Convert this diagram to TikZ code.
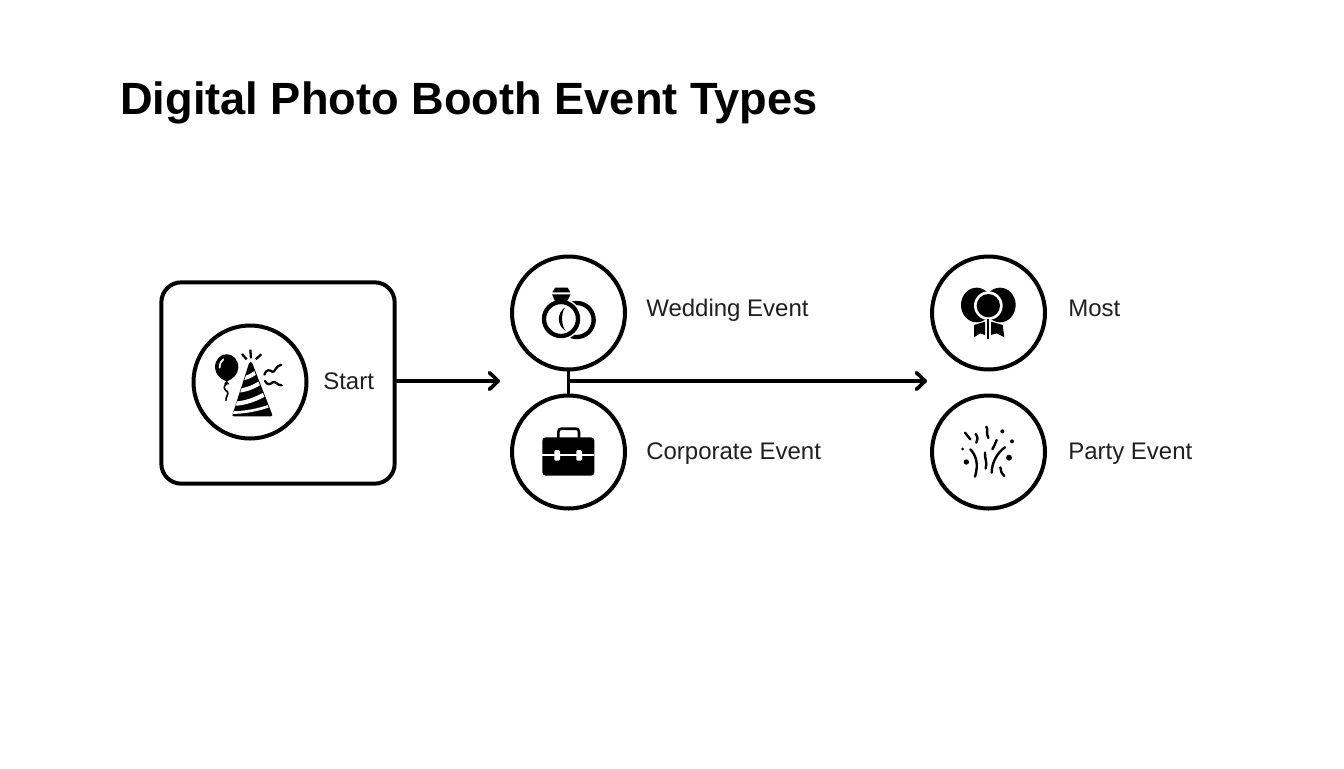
\documentclass[tikz,border=0pt]{standalone}
\usepackage{fontspec}
\setmainfont{Liberation Sans}
\usetikzlibrary{arrows.meta}
\tikzset{
  px/.style={x=.75pt,y=-.75pt},
  ring/.style={circle,draw=black,line width=3pt,minimum size=84.75pt,inner sep=0pt,outer sep=0pt,fill=white},
  startbox/.style={rectangle,rounded corners=15pt,draw=black,line width=3pt,minimum width=175pt,minimum height=151pt,inner sep=0pt,outer sep=0pt},
  lab/.style={inner sep=0pt,anchor=base west,font=\fontsize{18}{22}\selectfont,text=black!88},
  link/.style={draw=black,line width=2.8pt},
  flow/.style={link,-{Straight Barb[length=6.5pt,width=12.5pt,line width=2.8pt,round]}},
  zoomed/.style={x=.25pt,y=-.25pt,line cap=round,line join=round},
}
\begin{document}
\begin{tikzpicture}[px]
\useasboundingbox (0,0) rectangle (1344,768);
\fill[white] (0,0) rectangle (1344,768);
\node[inner sep=0pt,anchor=base west,font=\fontsize{33.9}{40}\bfseries\selectfont] (title) at (120,114) {Digital Photo Booth Event Types};

\node[startbox] (start) at (278,383) {};
\node[ring] (party) at (250,382) {};
\node[ring] (wed) at (568.5,313) {};
\node[ring] (corp) at (568.5,452) {};
\node[ring] (most) at (988.5,313) {};
\node[ring] (pe) at (988.5,452) {};
\coordinate (j) at (568.5,381);
\coordinate (t1) at (500,381);
\coordinate (t2) at (927,381);

\draw[flow] (start.east |- j) -- (t1);
\draw[link] (wed.south) -- (corp.north);
\draw[flow] (j) -- (t2);

\node[lab] (l0) at (323,389) {Start};
\node[lab] (l1) at (646,316.5) {Wedding Event};
\node[lab] (l2) at (646,459.5) {Corporate Event};
\node[lab] (l3) at (1068,316.5) {Most};
\node[lab] (l4) at (1068,459.5) {Party Event};

% party hat + balloon
\begin{scope}[shift={(210,345)},zoomed]
\fill (50,28) .. controls (28,28) and (15,46) .. (15,68) .. controls (15,88) and (35,105) .. (50,109) .. controls (65,105) and (85,88) .. (85,68) .. controls (85,46) and (72,28) .. (50,28) -- cycle;
\fill (42,118) -- (50,106) -- (58,118) -- cycle;
\draw[white,line width=1.3pt] (29,68) .. controls (29,56) and (33,48) .. (40,43);
\draw[line width=1.2pt] (50,116) .. controls (38,126) and (42,132) .. (52,140) .. controls (58,148) and (46,155) .. (48,166);
\fill (122,50) .. controls (125,50) and (126,52) .. (127,55) -- (186,207) .. controls (188,212) and (186,214) .. (182,214) -- (72,214) .. controls (68,214) and (66,212) .. (68,207) -- (117,55) .. controls (118,52) and (119,50) .. (122,50) -- cycle;
\begin{scope}
\clip (122,50) -- (186,214) -- (66,214) -- cycle;
\draw[white,line width=3pt,line cap=butt] (98,100) .. controls (112,98) and (125,92) .. (140,80);
\draw[white,line width=3pt,line cap=butt] (84,137) .. controls (110,135) and (135,125) .. (158,108);
\draw[white,line width=3.2pt,line cap=butt] (72,176) .. controls (105,175) and (140,163) .. (172,143);
\draw[white,line width=2pt,line cap=butt] (62,203) .. controls (100,203) and (150,195) .. (190,178);
\end{scope}
\draw[line width=1.7pt,line cap=butt] (121,14) -- (123,40);
\draw[line width=1.7pt,line cap=butt] (96,27) -- (110,43);
\draw[line width=1.7pt,line cap=butt] (154,28) -- (137,43);
\draw[line width=1.7pt] (163,89) .. controls (168,72) and (180,74) .. (186,80) .. controls (194,86) and (196,62) .. (214,59);
\draw[line width=1.7pt] (165,108) .. controls (172,122) and (182,118) .. (188,112) .. controls (196,106) and (202,122) .. (215,121);
\end{scope}

% rings
\begin{scope}[shift={(505,250)},zoomed]
\draw[line width=3.25pt,line cap=butt] (215,210) +(-110:51) arc[start angle=-110,end angle=110,radius=51];
\fill[white] (168,207) circle[radius=62];
\draw[line width=3.25pt] (168,207) circle[radius=51];
\fill (180,172) .. controls (155,190) and (155,225) .. (182,243) .. controls (168,225) and (168,190) .. (180,172) -- cycle;
\fill (150,113) -- (188,113) -- (196,127) -- (142,127) -- cycle;
\fill (141,133) -- (197,133) -- (184,158) -- (152,158) -- cycle;
\end{scope}

% briefcase
\begin{scope}[shift={(505,250)},zoomed]
\draw[line width=2pt] (160,564) -- (160,546) .. controls (160,538) and (164,536) .. (170,536) -- (212,536) .. controls (218,536) and (222,538) .. (222,546) -- (222,564);
\fill[rounded corners=2.5pt] (112,562) rectangle (268,677);
\fill[white] (112,612) rectangle (268,619);
\fill[white,rounded corners=1pt] (148,600) rectangle (165,632);
\fill[white,rounded corners=1pt] (214,600) rectangle (231,632);
\end{scope}

% balloons
\begin{scope}[shift={(925,250)},zoomed]
\fill (155,165) ellipse[x radius=47,y radius=52];
\fill (225,165) ellipse[x radius=47,y radius=52];
\fill[white] (190,167) circle[radius=43];
\fill (190,167) circle[radius=35];
\fill (147,225) -- (180,215) -- (180,255) -- (165,250) -- (147,262) -- cycle;
\fill (198,215) -- (233,225) -- (238,262) -- (215,250) -- (198,255) -- cycle;
\draw[line width=1.3pt,line cap=butt] (189,208) -- (189,268);
\end{scope}

% confetti
\begin{scope}[shift={(925,250)},zoomed]
\tikzset{c/.style={line width=1.8pt}}
\draw[c] (120,548) .. controls (126,556) and (130,560) .. (136,568);
\draw[c] (152,552) .. controls (160,562) and (158,570) .. (154,578);
\draw[c] (184,530) .. controls (190,540) and (182,548) .. (190,564);
\draw[c] (215,570) .. controls (212,580) and (206,590) .. (202,598);
\draw[c] (136,598) .. controls (152,615) and (162,640) .. (150,680);
\draw[c] (180,608) .. controls (178,625) and (188,635) .. (182,655);
\draw[c] (240,592) .. controls (220,605) and (200,635) .. (200,668);
\draw[c] (226,652) .. controls (226,662) and (230,670) .. (238,678);
\fill (232,544) circle[radius=6];
\fill (261,574) circle[radius=6];
\fill (113,597) circle[radius=4.5];
\fill (124,636) circle[radius=8];
\fill (252,623) circle[radius=9];
\end{scope}
\end{tikzpicture}
\end{document}
